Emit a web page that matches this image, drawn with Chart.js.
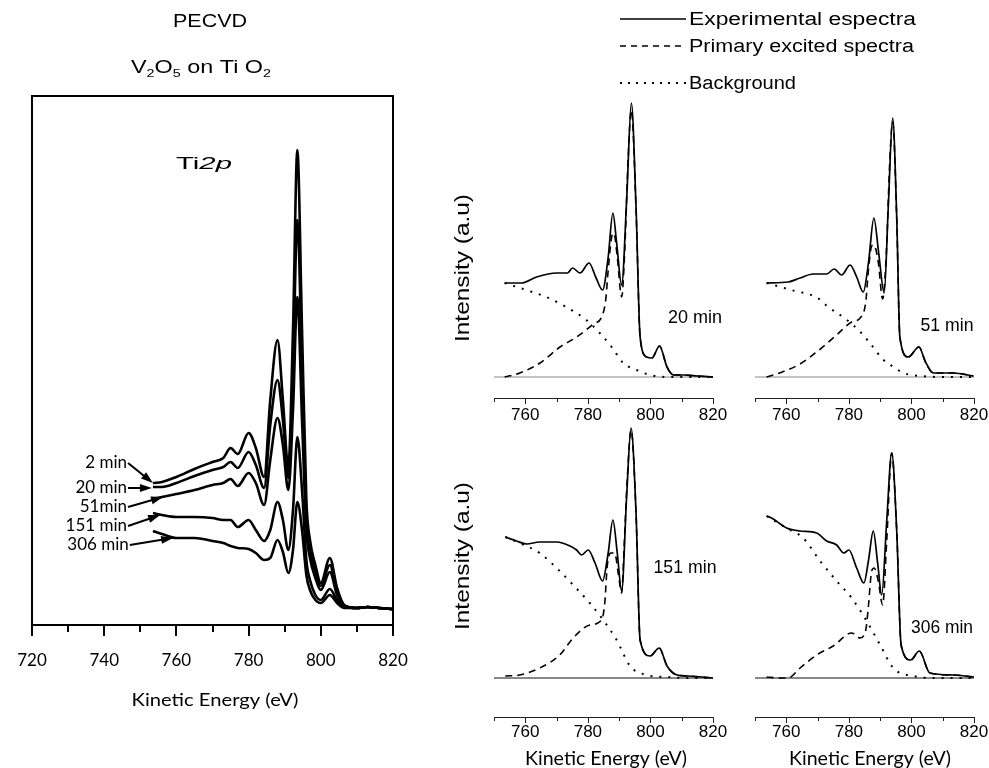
<!DOCTYPE html>
<html>
<head>
<meta charset="utf-8">
<script src="https://cdn.jsdelivr.net/npm/chart.js@4.4.1/dist/chart.umd.min.js"></script>
<style>
html, body { margin: 0; padding: 0; background: #fff; }
#wrap { position: relative; width: 989px; height: 768px; overflow: hidden; }
#wrap canvas { position: absolute; left: 0; top: 0; }
</style>
</head>
<body>
<div id="wrap">
  <canvas id="cMain" width="989" height="768"></canvas>
  <canvas id="c20" width="989" height="768"></canvas>
  <canvas id="c51" width="989" height="768"></canvas>
  <canvas id="c151" width="989" height="768"></canvas>
  <canvas id="c306" width="989" height="768"></canvas>
</div>
<script>
// ---- left panel: Ti2p spectra vs deposition time (intensity in a.u.)
const energyMain = [753.5,756,760,765,770,773,775,777,780,782,784.3,786,788,789.5,791,792.3,793.5,794.8,796,797,798.5,800,802.5,804.5,806.5,810,813,816,820];
const main2min   = [142,143,148,156,163,167,177,171,192,177,148,225,285,225,158,295,475,295,125,85,60,42,67,37,20,17,18,17,16];
const main20min  = [138,138,142,149,155,158,163,157,173,160,137,200,245,205,147,255,405,255,110,75,53,39,60,33,19,17,18,17,16];
const main51min  = [126,128,131,135,140,142,146,139,152,142,120,165,207,180,135,215,328,205,95,67,47,35,53,30,19,17,18,17,16];
const main151min = [112,110,108,108,107,105,105,98,105,95,84,95,123,105,75,115,188,135,65,45,30,25,36,25,18,17,18,17,16];
const main306min = [94,91,87,87,84,82,79,77,76,72,65,67,85,73,52,75,123,95,50,35,25,22,30,22,17,17,18,17,16];
const mainLabels = ['2 min', '20 min', '51min', '151 min', '306 min'];
// arrow annotations, data units: [fromE, fromI, toE, toI]
const mainArrows = [[746.6,162,753.5,142],[746.6,137,753.2,137],[746.6,118,756.3,128],[746.6,99,755.5,110],[747.1,80,759.1,87]];

// ---- right panels: experimental / primary excited / background
const e20exp  = [753.4,758.8,763.6,770,773.5,775.1,777.5,780.4,782.5,784.7,786.5,788,789.2,790.8,792.4,793.9,795.4,796.7,798.8,800.5,802.9,805.3,807.4,810.6,815,820];
const i20exp  = [94,94,100,104,104,109,104,114,100,87,120,164,134,92,177,274,170,40,20,19,31,10,2,2,1,0];
const e20prim = [753.4,758.3,764.7,771.1,776.4,781.8,784.4,785.7,786.5,787.6,788.3,789.4,790.8,791.8,792.9,793.9,795.4,796.7,798.8,800.5,802.9,805.3,807.4,810.6,815,820];
const i20prim = [0,4,14,30,40,53,60,77,107,140,144,120,80,127,220,267,168,40,20,19,31,10,2,2,1,0];
const e20bg   = [753.4,760.3,766.7,773.1,779.5,783.8,787.6,791.3,795.6,799.9,805.2,812,820];
const i20bg   = [94,87,80,70,57,44,30,14,7,2,0,0,0];

const e51exp  = [753.7,760.6,764.4,768.6,772.9,775.3,777.7,780.4,782.5,784.6,786.3,788,789.5,791.3,792.6,794,795.3,796.3,799,802.4,804.5,807,813.4,819.8];
const i51exp  = [94,95,99,103,103,108,102,112,100,85,115,159,125,84,170,259,160,40,20,30,15,4,4,1];
const e51prim = [753.7,757.8,764.4,769.7,776.1,780.9,783.6,785.4,786.2,787.3,788,789.4,790.8,792,793,794,795.3,796.3,799,802.4,804.5,807,813.4,819.8];
const i51prim = [0,4,13,25,42,55,59,75,105,131,132,115,78,125,210,255,158,40,20,30,15,4,4,1];
const e51bg   = [753.7,761.6,770,773,779.4,783.7,787.2,791.1,794.3,797.5,802.8,812,820];
const i51bg   = [94,87,79,71,57,45,32,17,10,4,1,0,0];

const e151exp  = [753.6,757.2,760.4,764.6,770,774.3,776.4,778,780.1,782.3,784.7,786.5,788,789.4,790.8,792.4,793.8,795.4,796.7,799.9,802.8,805.3,808.5,812,820];
const i151exp  = [141,137,134,136,136,132,128,123,128,115,97,125,158,125,87,182,250,165,38,22,30,12,3,2,0];
const e151prim = [753.6,758.2,764.6,771,775.3,780.6,784.4,785.4,786.2,787.3,788.6,789.7,790.8,791.6,792.6,793.8,795.4,796.7,799.9,802.8,805.3,808.5,812,820];
const i151prim = [2,3,10,23,40,53,58,75,112,125,125,105,85,132,199,248,165,38,22,30,12,3,2,0];
const e151bg   = [753.6,758.2,764.6,770,775.3,780.6,784.9,789.2,793.5,798.8,805.2,812,820];
const i151bg   = [141,135,125,110,93,75,58,38,12,3,1,0,0];

const e306exp  = [753.7,755.3,760.1,764.4,769.7,772.9,776.1,778.4,780,782.5,784.8,786.3,787.8,789.2,790.5,792.1,793.7,795.3,796.7,799.8,802.5,805.9,813.3,820];
const i306exp  = [162,160,150,147,145,137,133,125,128,110,95,118,147,115,83,157,225,147,33,18,27,5,3,1];
const e306prim = [753.7,757.9,760.6,764.4,769.7,775,780.9,783.6,785.4,786.2,787.3,788.1,789.4,790.8,792.1,793.7,795.3,796.7,799.8,802.5,805.9,813.3,820];
const i306prim = [1,0,0,10,23,32,45,40,48,70,107,110,97,73,137,225,147,33,18,27,5,3,1];
const e306bg   = [753.7,760.1,765.4,770.8,776.1,780.9,785.7,790,794.2,800.6,807,820];
const i306bg   = [162,150,140,117,97,80,57,33,10,2,0,0];

const legendLabels = ['Experimental espectra', 'Primary excited spectra', 'Background'];

const HELV = '"Liberation Sans", Arial, Helvetica, sans-serif';
const MYR = 'Lato, "Open Sans", sans-serif';
const LINE_STYLES = [
    { borderWidth: 1.7, borderDash: [] },
    { borderWidth: 1.6, borderDash: [7, 5] },
    { borderWidth: 2, borderDash: [2, 7] }
];

const pts = (xs, ys) => xs.map((x, i) => ({ x: x, y: ys[i] }));

// text made of runs: [text, 'sub'|'it'|''], centred on cap middle, optionally fitted to a width
function drawRuns(ctx, parts, x, y, size, family, opts) {
    opts = opts || {};
    ctx.save();
    ctx.fillStyle = '#000';
    ctx.textBaseline = 'alphabetic';
    ctx.textAlign = 'left';
    const fontFor = p => (p[1] === 'it' ? 'italic ' : '') + (p[1] === 'sub' ? Math.round(size * 0.6) : size) + 'px ' + family;
    let total = 0;
    const ws = parts.map(p => { ctx.font = fontFor(p); const w = ctx.measureText(p[0]).width; total += w; return w; });
    const sx = opts.width ? opts.width / total : 1;
    ctx.translate(x, y);
    if (opts.rotate) ctx.rotate(opts.rotate);
    ctx.scale(sx, 1);
    let cx = opts.align === 'left' ? 0 : opts.align === 'right' ? -total : -total / 2;
    parts.forEach((p, i) => {
        ctx.font = fontFor(p);
        ctx.fillText(p[0], cx, size * 0.36 + (p[1] === 'sub' ? size * 0.2 : 0));
        cx += ws[i];
    });
    ctx.restore();
}

function drawTicks(chart, major, minor, width, color) {
    const s = chart.scales.x, ctx = chart.ctx, y0 = chart.chartArea.bottom;
    ctx.save();
    ctx.strokeStyle = color;
    ctx.lineWidth = width;
    s.ticks.forEach(t => {
        const px = Math.round(s.getPixelForValue(t.value)) + (width % 2 ? 0.5 : 0);
        ctx.beginPath();
        ctx.moveTo(px, y0);
        ctx.lineTo(px, y0 + (t.value % 20 === 0 ? major : minor));
        ctx.stroke();
    });
    ctx.restore();
}

function arrow(ctx, x1, y1, x2, y2) {
    const a = Math.atan2(y2 - y1, x2 - x1), L = 12, W = 4;
    const c = Math.cos(a), s = Math.sin(a);
    ctx.beginPath();
    ctx.moveTo(x1, y1);
    ctx.lineTo(x2 - L * 0.7 * c, y2 - L * 0.7 * s);
    ctx.stroke();
    ctx.beginPath();
    ctx.moveTo(x2, y2);
    ctx.lineTo(x2 - L * c + W * s, y2 - L * s - W * c);
    ctx.lineTo(x2 - L * c - W * s, y2 - L * s + W * c);
    ctx.closePath();
    ctx.fill();
}

const mainDecor = {
    id: 'mainDecor',
    afterDraw(chart) {
        const ctx = chart.ctx, a = chart.chartArea, xs = chart.scales.x, ys = chart.scales.y;
        ctx.save();
        ctx.strokeStyle = '#000';
        ctx.lineWidth = 2;
        ctx.strokeRect(a.left, a.top, a.right - a.left, a.bottom - a.top);
        ctx.restore();
        drawTicks(chart, 11, 7, 2, '#000');

        drawRuns(ctx, [['PECVD', '']], 210, 21, 18, HELV, { width: 74 });
        drawRuns(ctx, [['V', ''], ['2', 'sub'], ['O', ''], ['5', 'sub'], [' on Ti O', ''], ['2', 'sub']], 201, 67, 18, HELV, { width: 140 });
        drawRuns(ctx, [['Ti', ''], ['2p', 'it']], 204, 163, 17, HELV, { width: 56 });
        drawRuns(ctx, [['Kinetic Energy (eV)', '']], 215, 700, 18, MYR, { width: 167 });

        ctx.save();
        ctx.strokeStyle = '#000';
        ctx.fillStyle = '#000';
        ctx.lineWidth = 2;
        mainArrows.forEach((r, i) => {
            const x1 = xs.getPixelForValue(r[0]), y1 = ys.getPixelForValue(r[1]);
            arrow(ctx, x1, y1, xs.getPixelForValue(r[2]), ys.getPixelForValue(r[3]));
            drawRuns(ctx, [[mainLabels[i], '']], x1 - 1, y1 - 1, 17, MYR, { align: 'right' });
        });
        ctx.restore();

        // legend for the right-hand panels
        const rows = [19, 46, 83];
        legendLabels.forEach((lab, i) => {
            ctx.save();
            ctx.strokeStyle = '#000';
            ctx.lineWidth = LINE_STYLES[i].borderWidth;
            ctx.setLineDash(i === 1 ? [6, 5] : i === 2 ? [2, 6] : []);
            ctx.beginPath();
            ctx.moveTo(620, rows[i]);
            ctx.lineTo(686, rows[i]);
            ctx.stroke();
            ctx.restore();
            drawRuns(ctx, [[lab, '']], 689, rows[i], 18, HELV, { align: 'left', width: [227, 225, 107][i] });
        });
    }
};

new Chart(document.getElementById('cMain'), {
    type: 'line',
    data: {
        datasets: [main2min, main20min, main51min, main151min, main306min].map((ys, i) => ({
            label: mainLabels[i],
            data: pts(energyMain, ys),
            borderColor: '#000',
            borderWidth: 2.6,
            pointRadius: 0,
            fill: false,
            cubicInterpolationMode: 'monotone',
            borderJoinStyle: 'round'
        }))
    },
    options: {
        responsive: false,
        animation: false,
        events: [],
        layout: { padding: { left: 32, right: 596, top: 96, bottom: 63 } },
        plugins: { legend: { display: false }, tooltip: { enabled: false } },
        scales: {
            x: {
                type: 'linear', min: 720, max: 820,
                afterFit: s => { s.height = 80; },
                // invisible tick marks only push the labels down; real ticks are drawn by the plugin
                grid: { display: true, drawOnChartArea: false, drawTicks: true, tickLength: 23, tickColor: 'rgba(0,0,0,0)' },
                border: { display: true, color: '#000', width: 2 },
                ticks: {
                    stepSize: 10, autoSkip: false, maxRotation: 0, padding: 2,
                    color: '#000', font: { family: MYR, size: 17 },
                    callback: v => (v % 20 === 0 ? String(v) : '')
                }
            },
            y: { display: false, min: 0, max: 529 }
        }
    },
    plugins: [mainDecor]
});

function smallChart(id, exp, prim, bg, cfg) {
    const decor = {
        id: 'decor_' + id,
        afterDraw(chart) {
            const ctx = chart.ctx;
            drawTicks(chart, 6, 4, 1, '#222');
            drawRuns(ctx, [[cfg.label, '']], cfg.labelX, cfg.labelY, 18, HELV, { width: cfg.labelW });
            if (cfg.intensityY) {
                drawRuns(ctx, [['Intensity (a.u)', '']], 461, cfg.intensityY, 21, HELV, { width: 148, rotate: -Math.PI / 2 });
            }
            if (cfg.keX) {
                drawRuns(ctx, [['Kinetic Energy (eV)', '']], cfg.keX, 758, 19, MYR, { width: 162 });
            }
        }
    };
    const series = [exp, prim, bg].map((d, i) => ({
        label: legendLabels[i],
        data: d,
        borderColor: '#000',
        borderWidth: LINE_STYLES[i].borderWidth,
        borderDash: LINE_STYLES[i].borderDash,
        pointRadius: 0,
        fill: false,
        cubicInterpolationMode: 'monotone'
    }));
    series.push({
        label: 'baseline',
        data: [{ x: 750, y: 0 }, { x: 820, y: 0 }],
        borderColor: cfg.baseColor,
        borderWidth: 1,
        pointRadius: 0,
        fill: false
    });
    return new Chart(document.getElementById(id), {
        type: 'line',
        data: { datasets: series },
        options: {
            responsive: false,
            animation: false,
            events: [],
            layout: { padding: { left: cfg.left, right: 989 - cfg.right, top: cfg.top, bottom: 768 - cfg.bottom - 40 } },
            plugins: { legend: { display: false }, tooltip: { enabled: false } },
            scales: {
                x: {
                    type: 'linear', min: 750, max: 820,
                    afterFit: s => { s.height = 40; },
                    grid: { display: false },
                    border: { display: true, color: '#222', width: 1 },
                    ticks: {
                        stepSize: 10, autoSkip: false, maxRotation: 0, padding: cfg.tickPad,
                        color: '#000', font: { family: HELV, size: 17 },
                        callback: v => (v % 20 === 0 ? String(v) : '')
                    }
                },
                y: { display: false, min: cfg.yMin, max: cfg.yMax }
            }
        },
        plugins: [decor]
    });
}

smallChart('c20', pts(e20exp, i20exp), pts(e20prim, i20prim), pts(e20bg, i20bg),
    { left: 494, right: 713, top: 100, bottom: 398, yMin: -21, yMax: 277, baseColor: '#888', tickPad: -1,
      label: '20 min', labelX: 695, labelY: 317, labelW: 54, intensityY: 268 });
smallChart('c51', pts(e51exp, i51exp), pts(e51prim, i51prim), pts(e51bg, i51bg),
    { left: 755, right: 974, top: 100, bottom: 398, yMin: -21, yMax: 277, baseColor: '#888', tickPad: -1,
      label: '51 min', labelX: 947, labelY: 325, labelW: 53 });
smallChart('c151', pts(e151exp, i151exp), pts(e151prim, i151prim), pts(e151bg, i151bg),
    { left: 494, right: 713, top: 420, bottom: 717, yMin: -39, yMax: 258, baseColor: '#111', tickPad: -3,
      label: '151 min', labelX: 685, labelY: 567, labelW: 63, intensityY: 556, keX: 606 });
smallChart('c306', pts(e306exp, i306exp), pts(e306prim, i306prim), pts(e306bg, i306bg),
    { left: 755, right: 974, top: 420, bottom: 717, yMin: -39, yMax: 258, baseColor: '#111', tickPad: -3,
      label: '306 min', labelX: 942, labelY: 627, labelW: 62, keX: 870 });
</script>
</body>
</html>
